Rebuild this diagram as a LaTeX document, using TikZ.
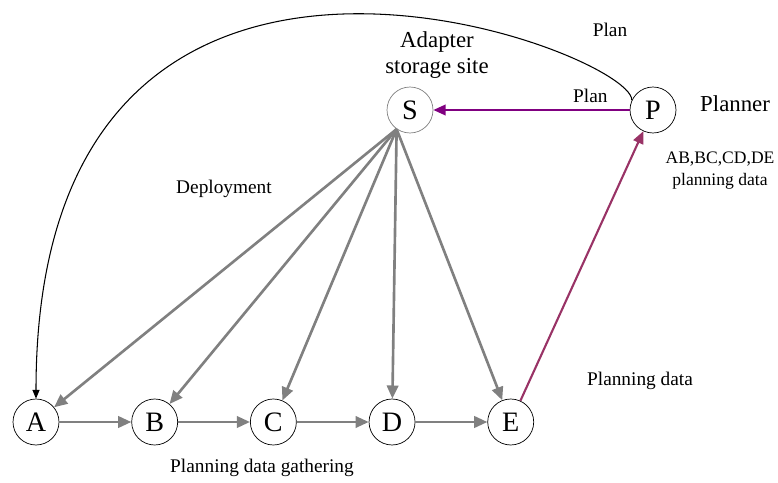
\documentclass[tikz,border=0pt]{standalone}
\usepackage{fontspec}
\setmainfont{Liberation Serif}
\usetikzlibrary{arrows.meta,positioning,calc}
\definecolor{deploygray}{RGB}{128,128,128}
\definecolor{planpurple}{RGB}{128,0,128}
\definecolor{datapurple}{RGB}{153,51,102}

\begin{document}
\begin{tikzpicture}[x=0.02cm, y=-0.02cm,
  site/.style={draw, circle, minimum size=0.92cm, inner sep=0pt, font=\fontsize{16}{18}\selectfont},
  deploy/.style={-{Triangle[length=7.5pt,width=6.5pt]}, draw=deploygray, line width=1.5pt},
  plan/.style={-{Triangle[length=7pt,width=6pt]}, draw=planpurple, line width=1.2pt},
  data/.style={-{Triangle[length=7pt,width=6pt]}, draw=datapurple, line width=1.2pt},
  note/.style={align=center, font=\fontsize{11}{13}\selectfont},
  big/.style={align=center, font=\fontsize{13}{14.7}\selectfont}
]
\useasboundingbox (0,0) rectangle (778,483);

% sites
\node[site, draw=gray] (S) at (410,110) {S};
\node[site] (P) at (653,110) {P};
\node[site] (A) at (36,422) {A};
\node[site, right=1.44cm of A] (B) {B};
\node[site, right=1.44cm of B] (C) {C};
\node[site, right=1.44cm of C] (D) {D};
\node[site, right=1.44cm of D] (E) {E};

% labels
\node[big] (storage) at (437,55) {Adapter\\storage site};
\node[big, anchor=west] (planner) at (694,104) {Planner};
\node[align=center, font=\fontsize{10}{12.5}\selectfont] (abcd) at (720,171) {AB,BC,CD,DE\\planning data};
\node[note] (deploylbl) at (224,189) {Deployment};
\node[note] (datalbl) at (640,381) {Planning data};
\node[note] (gather) at (262,468) {Planning data gathering};
\node[note] (toplan) at (610,30) {Plan};

% deployment from S
\coordinate (fan) at (S.235);
\foreach \t in {A,B,C,D,E}
  \draw[deploy] (fan) -- (\t);

% data gathering chain
\foreach \a/\b in {A/B,B/C,C/D,D/E}
  \draw[deploy] (\a) -- (\b);

% planner links
\draw[plan] (P) -- node[pos=0.2, above, note] {Plan} (S);
\draw[data] (E) -- (P);
\draw[-{Triangle[length=5pt,width=4pt]}, line width=0.6pt] (P.155) .. controls (632,50) and (36,-175) .. (A.north);

\end{tikzpicture}
\end{document}
